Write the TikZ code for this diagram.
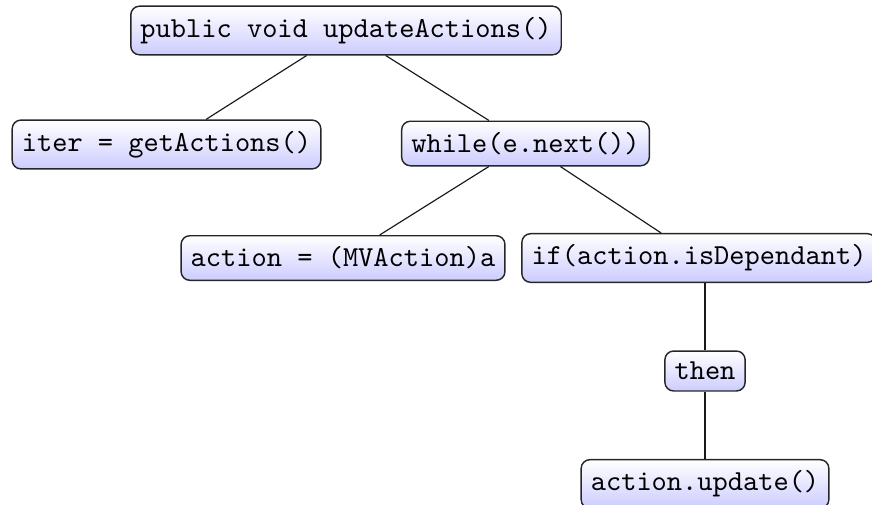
\documentclass[tikz,border=0pt]{standalone}
\usetikzlibrary{calc}
\tikzset{
  codebox/.style={draw=black!85, rounded corners=3pt, top color=white, bottom color=blue!20,
    font=\ttfamily, inner xsep=3.33pt, inner ysep=3.8pt, line width=0.5pt},
  treeedge/.style={draw=black!90, line width=0.4pt}
}
\begin{document}
\begin{tikzpicture}[x=0.3448pt, y=-0.3448pt]
\useasboundingbox (0,0) rectangle (872,504);
\node[codebox] (root) at (346,30.5) {public void updateActions()};
\node[codebox] (iter) at (166.5,144.5) {iter = getActions()};
\node[codebox] (while) at (525.5,143.5) {while(e.next())};
\node[codebox] (act) at (343,258) {action = (MVAction)a};
\node[codebox] (if) at (699,258) {if(action.isDependant)};
\node[codebox] (then) at (705,371) {then};
\node[codebox] (upd) at (705,484) {action.update()};
\draw[treeedge] (root) -- (iter);
\draw[treeedge] (root) -- (while);
\draw[treeedge] (while) -- (act);
\draw[treeedge] (while) -- (if);
\draw[treeedge] (then.north) -- (then.north |- if.south);
\draw[treeedge] (then.south) -- (upd.north);
\end{tikzpicture}
\end{document}
